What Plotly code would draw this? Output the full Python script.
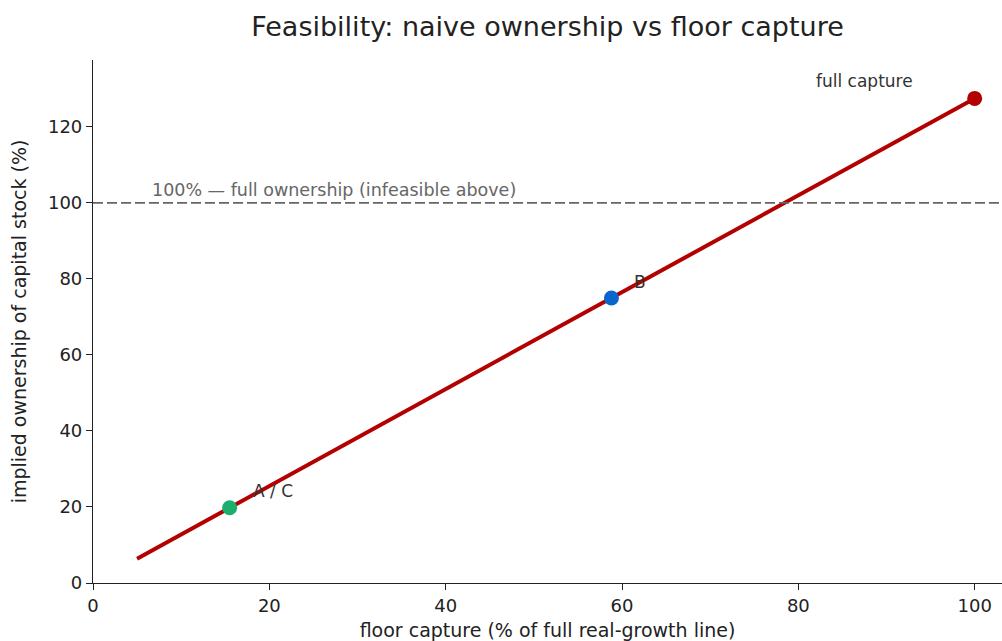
import plotly.graph_objects as go

# Data
line_x = [5, 100]
line_y = [6.4, 127.5]
point_labels = ["A / C", "B", "full capture"]
point_x = [15.5, 58.8, 100]
point_y = [19.8, 75.0, 127.5]
point_colors = ["#1aaf6c", "#0a66cc", "#b30000"]
threshold = 100
threshold_label = "100% — full ownership (infeasible above)"
x_ticks = [0, 20, 40, 60, 80, 100]
y_ticks = [0, 20, 40, 60, 80, 100, 120]

FONT = "DejaVu Sans"

fig = go.Figure()
fig.add_trace(go.Scatter(x=line_x, y=line_y, mode="lines",
                         line=dict(color="#b30000", width=4), showlegend=False,
                         hoverinfo="skip"))
fig.add_shape(type="line", xref="paper", yref="y", x0=0, x1=1, y0=threshold, y1=threshold,
              line=dict(color="#666666", width=1.8, dash="10px,4px"))
fig.add_trace(go.Scatter(x=point_x, y=point_y, mode="markers",
                         marker=dict(color=point_colors, size=15),
                         showlegend=False, text=point_labels))

offsets = {"A / C": ("left", 21, 17), "B": ("left", 21, 16), "full capture": ("right", -60, 17)}
for lab, px, py in zip(point_labels, point_x, point_y):
    anchor, dx, dy = offsets[lab]
    fig.add_annotation(x=px, y=py, text=lab, showarrow=False, xanchor=anchor,
                       yanchor="middle", xshift=dx, yshift=dy,
                       font=dict(family=FONT, size=17, color="#333333"))

fig.add_annotation(x=6.5, y=threshold, text=threshold_label, showarrow=False,
                   xanchor="left", yanchor="middle", yshift=13,
                   font=dict(family=FONT, size=17.5, color="#666666"))

fig.update_layout(
    width=1002, height=641,
    margin=dict(l=93, r=0, t=60, b=58),
    plot_bgcolor="white", paper_bgcolor="white",
    font=dict(family=FONT, size=18, color="#222222"),
    title=dict(text="Feasibility: naive ownership vs floor capture", xref="paper", x=0.5,
               xanchor="center", y=1 - 27 / 641, yanchor="middle",
               font=dict(family=FONT, size=27, color="#222222")),
    xaxis=dict(range=[0, 103.1], tickvals=x_ticks, showgrid=False, zeroline=False,
               showline=True, linecolor="#222222", linewidth=1.2, ticks="outside",
               ticklen=6, tickcolor="#222222",
               title=dict(text="floor capture (% of full real-growth line)", standoff=9,
                          font=dict(family=FONT, size=19)),
               tickfont=dict(family=FONT, size=18)),
    yaxis=dict(range=[0, 137.6], tickvals=y_ticks, showgrid=False, zeroline=False,
               showline=True, linecolor="#222222", linewidth=1.2, ticks="outside",
               ticklen=6, tickcolor="#222222",
               title=dict(text="implied ownership of capital stock (%)", standoff=16,
                          font=dict(family=FONT, size=19)),
               tickfont=dict(family=FONT, size=18)),
)

fig.write_html("out.html", config={"displayModeBar": False},
               post_script="document.body.style.margin='0';document.body.style.overflow='hidden';")
